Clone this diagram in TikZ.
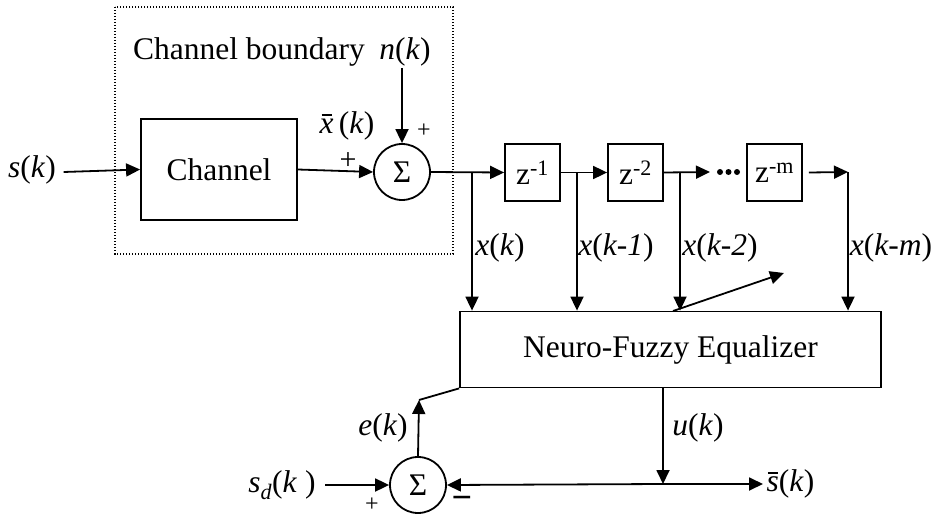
\documentclass[tikz,border=0pt]{standalone}
\usepackage{fontspec}
\setmainfont{Liberation Serif}
\usetikzlibrary{arrows.meta}
\newcommand\barlet[1]{\ooalign{\textit{#1}\cr\hidewidth\raisebox{0.56em}{\rule{0.32em}{0.05em}}\hidewidth\cr}}
\begin{document}
\begin{tikzpicture}[x=1pt,y=-1pt,
  every node/.style={font=\fontsize{31.5}{36}\selectfont, inner sep=1.5pt},
  line/.style={line width=1.8pt},
  arr/.style={line width=1.8pt,-{Triangle[length=14pt,width=13pt]}},
  blk/.style={draw, line width=1.8pt, inner sep=0pt},
  sumc/.style={draw, circle, line width=1.8pt, minimum size=56pt, inner sep=0pt},
  small/.style={font=\fontsize{24}{28}\selectfont, inner sep=0pt},
  bound/.style={line width=1.8pt, dash pattern=on 1.4pt off 1.6pt}]
\useasboundingbox (0,0) rectangle (937,516);
% channel part
\draw[bound] (115,7) rectangle (453,254);
\node (cbl) at (249,52) {Channel boundary};
\node (nk) at (405,52) {\textit{n}(\textit{k})};
\node[blk, minimum width=156pt, minimum height=101pt] (ch) at (219,169.5) {Channel};
\node[sumc] (s1) at (402,172) {Σ};
\node (sk) at (32,170) {\textit{s}(\textit{k})};
\node (xb) at (347,126) {\barlet{x}\,(\textit{k})};
\node[small] (p1) at (424,131) {+};
\node[font=\fontsize{30}{34}\selectfont, inner sep=0pt] (p2) at (348,161) {+};
\draw[arr] (sk.east) ++(6,2) -- (ch.west);
\draw[arr] (ch.east) -- (s1.west);
\draw[arr] (nk.south) ++(-3,0) -- (s1.north);
% delay line
\node[blk, minimum width=55pt, minimum height=57pt] (z1) at (532.5,172.5) {z\textsuperscript{-1}};
\node[blk, minimum width=55pt, minimum height=57pt] (z2) at (635.5,172.5) {z\textsuperscript{-2}};
\node[blk, minimum width=55pt, minimum height=57pt] (zm) at (774.5,172.5) {z\textsuperscript{-m}};
\node[blk, minimum width=421pt, minimum height=76pt] (nfe) at (670.5,349.5) {Neuro-Fuzzy Equalizer};
\coordinate (t0) at (472,172);
\coordinate (t1) at (577,172);
\coordinate (t2) at (680,172);
\coordinate (d0) at (710,172);
\coordinate (tm) at (848,172);
\draw[arr] (s1.east) -- (z1.west);
\draw[arr] (z1.east) -- (z2.west);
\draw[arr] (z2.east) -- (d0);
\fill (720,172) circle (3pt) (728.5,172) circle (3pt) (737,172) circle (3pt);
\draw[arr] (zm.east) ++(6,0) -- (tm);
\draw[arr] (t0) -- (t0 |- nfe.north);
\draw[arr] (t1) -- (t1 |- nfe.north);
\draw[arr] (t2) -- (t2 |- nfe.north);
\draw[arr] (tm) -- (tm |- nfe.north);
\node (lx0) at (500,248) {\textit{x}(\textit{k})};
\node (lx1) at (616,248) {\textit{x}(\textit{k-1})};
\node (lx2) at (720,248) {\textit{x}(\textit{k-2})};
\node (lxm) at (891,248) {\textit{x}(\textit{k-m})};
\coordinate (a0) at (673,311);
\coordinate (a1) at (784,273);
\draw[arr] (a0) -- (a1);
% error loop
\node[sumc] (s2) at (418,485) {Σ};
\coordinate (u0) at (663,387);
\coordinate (u1) at (663,484);
\coordinate (sb) at (763,484);
\coordinate (e1) at (419,400);
\node[anchor=west] (sbar) at (765,484) {\barlet{s}(\textit{k})};
\node (sd) at (282,485) {\textit{s\textsubscript{d}}(\textit{k} )};
\node (uk) at (698,428) {\textit{u}(\textit{k})};
\node (ek) at (383,428) {\textit{e}(\textit{k})};
\node[small] (p3) at (372,505) {+};
\node[font=\fontsize{36}{40}\selectfont\bfseries, inner sep=0pt] (m1) at (462,503) {−};
\draw[arr] (u0) -- (u1);
\draw[arr] (u1) -- (s2.east);
\draw[arr] (u1) -- (sb);
\draw[arr] (sd.east) ++(8,0) -- (s2.west);
\draw[arr] (s2.north) -- (e1);
\draw[line] (e1) -- (nfe.south west);
\end{tikzpicture}
\end{document}
